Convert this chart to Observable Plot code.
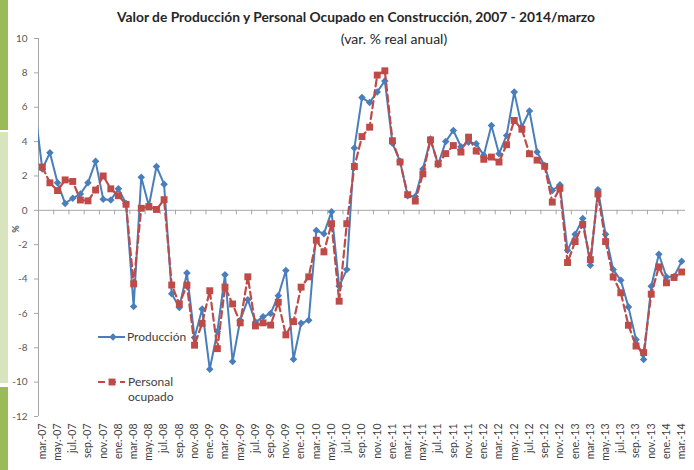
<!DOCTYPE html>
<html><head><meta charset="utf-8">
<script src="https://cdn.jsdelivr.net/npm/d3@7"></script>
<script src="https://cdn.jsdelivr.net/npm/@observablehq/plot@0.6"></script>
<style>
body{margin:0;background:#fff;}
#wrap{position:relative;width:694px;height:470px;overflow:hidden;font-family:Lato,"Open Sans",sans-serif;}
.bar{position:absolute;left:0;width:8px;}
#title{position:absolute;top:8px;left:356px;transform:translateX(-50%);white-space:nowrap;font-size:13.8px;font-weight:bold;color:#262626;}
#subtitle{position:absolute;top:30px;left:394px;transform:translateX(-50%);white-space:nowrap;font-size:14px;color:#262626;}
#chart{position:absolute;left:0;top:0;}
</style></head>
<body>
<div id="wrap">
  <div id="chart"></div>
  <div class="bar" style="top:0;height:130px;background:#9bbb59"></div>
  <div class="bar" style="top:132px;height:251px;background:#d7e4bd"></div>
  <div class="bar" style="top:387px;height:83px;background:#9bbb59"></div>
  <div id="title">Valor de Producción y Personal Ocupado en Construcción, 2007 - 2014/marzo</div>
  <div id="subtitle">(var. % real anual)</div>
</div>
<script>
// Monthly series, mar.-07 ... mar.-14 (85 months)
const produccionFeb07 = 6.0; // previous month, clipped by the plot frame
const produccion = [2.4,3.35,1.6,0.4,0.7,0.95,1.6,2.85,0.65,0.6,
  1.25,0.4,-5.6,1.93,0.25,2.55,1.52,-4.85,-5.65,-3.65,
  -7.4,-5.75,-9.25,-7.05,-3.75,-8.8,-6.4,-5.2,-6.5,-6.2,
  -6.0,-4.97,-3.5,-8.67,-6.58,-6.4,-1.18,-1.36,-0.08,-4.42,
  -3.45,3.63,6.56,6.27,6.89,7.53,3.9,2.85,0.85,0.8,
  2.41,4.15,2.66,4.0,4.65,3.7,3.97,3.88,3.2,4.94,
  3.29,4.36,6.88,4.85,5.78,3.39,2.6,1.15,1.48,-2.33,
  -1.4,-0.48,-3.2,1.2,-1.4,-3.45,-4.07,-5.62,-7.52,-8.68,
  -4.42,-2.56,-3.88,-3.85,-2.97];
const personal = [2.52,1.6,1.15,1.77,1.68,0.6,0.55,1.18,2.0,1.25,
  0.85,0.35,-4.28,0.12,0.22,0.05,0.62,-4.35,-5.45,-4.35,
  -7.85,-6.58,-4.68,-8.05,-4.47,-5.45,-6.55,-3.87,-6.73,-6.55,
  -6.68,-5.35,-7.25,-6.48,-4.47,-3.87,-1.74,-2.42,-0.78,-5.29,
  -0.78,2.55,4.29,4.84,7.87,8.12,4.05,2.81,0.91,0.54,
  2.12,4.1,2.7,3.3,3.77,3.39,4.26,3.45,2.97,3.1,
  2.81,3.82,5.23,4.72,3.29,2.92,2.56,0.48,1.28,-3.04,
  -1.82,-0.82,-2.87,0.95,-1.82,-3.88,-4.8,-6.69,-7.9,-8.28,
  -4.88,-3.29,-4.22,-3.91,-3.59];
// x tick labels, every second month starting with mar.-07
const tickLabels = ["mar.-07","may.-07","jul.-07","sep.-07","nov.-07",
  "ene.-08","mar.-08","may.-08","jul.-08","sep.-08","nov.-08",
  "ene.-09","mar.-09","may.-09","jul.-09","sep.-09","nov.-09",
  "ene.-10","mar.-10","may.-10","jul.-10","sep.-10","nov.-10",
  "ene.-11","mar.-11","may.-11","jul.-11","sep.-11","nov.-11",
  "ene.-12","mar.-12","may.-12","jul.-12","sep.-12","nov.-12",
  "ene.-13","mar.-13","may.-13","jul.-13","sep.-13","nov.-13",
  "ene.-14","mar.-14"];
const yTicks = [10,8,6,4,2,0,-2,-4,-6,-8,-10,-12];

const blue = "#4a7ebb", red = "#be4b48", axisGray = "#a6a6a6", textGray = "#595959";
const n = produccion.length;
const prodRows = [{i: -1, v: produccionFeb07}, ...produccion.map((v, i) => ({i, v}))];
const persRows = personal.map((v, i) => ({i, v}));
const labelIdx = tickLabels.map((_, k) => 2 * k);
const boundaryTicks = d3.range(1.5, n - 0.5, 2);

const chart = Plot.plot({
  width: 694, height: 470,
  marginLeft: 38, marginRight: 9, marginTop: 38, marginBottom: 54,
  style: {fontFamily: "Lato, 'Open Sans', sans-serif", fontSize: "10px", background: "transparent", color: textGray},
  x: {type: "linear", domain: [-0.5, n - 0.5], axis: null},
  y: {domain: [-12, 10], axis: null},
  marks: [
    Plot.ruleX([-0.5], {stroke: axisGray}),
    Plot.axisY(yTicks, {anchor: "left", label: null, tickSize: 4, tickPadding: 7, stroke: axisGray, fill: textGray, tickFormat: d => String(d), fontSize: 10}),
    Plot.ruleY([0], {stroke: axisGray}),
    Plot.ruleX(boundaryTicks, {x: d => d, y1: 0, y2: -0.26, stroke: axisGray}),
    Plot.axisX(labelIdx, {anchor: "bottom", label: null, tickSize: 0, tickPadding: 7, tickRotate: -90, fill: "#404040", fontSize: 10.5, tickFormat: i => tickLabels[i / 2]}),
    Plot.line(prodRows, {x: "i", y: "v", stroke: blue, strokeWidth: 2, clip: true}),
    Plot.dot(prodRows, {x: "i", y: "v", symbol: "diamond2", r: 3.4, fill: blue, clip: true}),
    Plot.line(persRows, {x: "i", y: "v", stroke: red, strokeWidth: 2.2, strokeDasharray: "7,4", clip: true}),
    Plot.dot(persRows, {x: "i", y: "v", symbol: "square", r: 3.9, fill: red, clip: true})
  ]
});
document.getElementById("chart").appendChild(chart);

// legend and "%" axis title
const svg = d3.select(chart);
const g = svg.append("g").attr("font-family", "Lato, 'Open Sans', sans-serif").attr("font-size", 12).attr("fill", "#404040").attr("text-anchor", "start");
g.append("line").attr("x1", 98).attr("x2", 125).attr("y1", 337).attr("y2", 337).attr("stroke", blue).attr("stroke-width", 2);
g.append("path").attr("d", d3.symbol(d3.symbolDiamond2, Math.PI * 3.4 * 3.4)()).attr("transform", "translate(113,337)").attr("fill", blue);
g.append("text").attr("x", 127).attr("y", 337).attr("dy", "0.35em").text("Producción");
g.append("line").attr("x1", 98).attr("x2", 125).attr("y1", 382).attr("y2", 382).attr("stroke", red).attr("stroke-width", 2.2).attr("stroke-dasharray", "7,4");
g.append("path").attr("d", d3.symbol(d3.symbolSquare, Math.PI * 3.9 * 3.9)()).attr("transform", "translate(112,382)").attr("fill", red);
g.append("text").attr("x", 128).attr("y", 382).attr("dy", "0.35em").text("Personal");
g.append("text").attr("x", 128).attr("y", 397).attr("dy", "0.35em").text("ocupado");
svg.append("text").attr("transform", "translate(16,229) rotate(-90)").attr("text-anchor", "middle").attr("dy", "0.35em")
  .attr("font-family", "Lato, sans-serif").attr("font-size", 9).attr("font-weight", "bold").attr("fill", textGray).text("%");
</script>
</body></html>
